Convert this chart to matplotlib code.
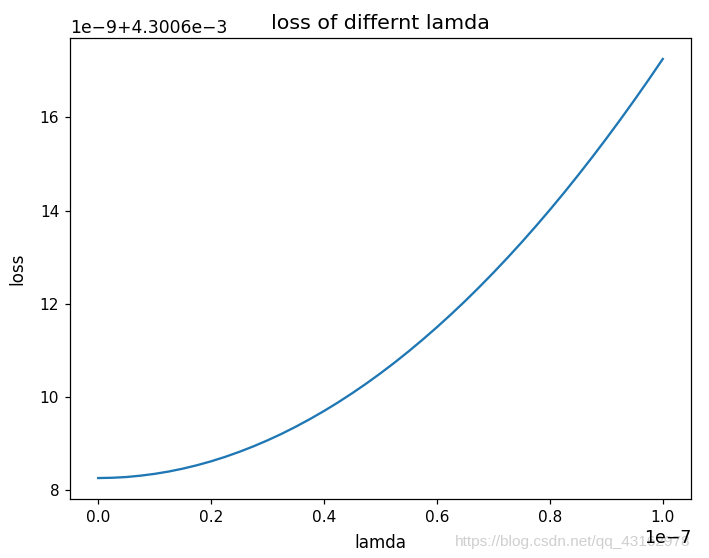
import matplotlib
matplotlib.use("Agg")
import matplotlib.pyplot as plt
import numpy as np

# lamda values (units of 1e-7) and loss (units of 1e-9 above 4.3006e-3)
lamda = [0.0, 0.025, 0.05, 0.075, 0.1, 0.125, 0.15, 0.175, 0.2, 0.225,
         0.25, 0.275, 0.3, 0.325, 0.35, 0.375, 0.4, 0.425, 0.45, 0.475,
         0.5, 0.525, 0.55, 0.575, 0.6, 0.625, 0.65, 0.675, 0.7, 0.725,
         0.75, 0.775, 0.8, 0.825, 0.85, 0.875, 0.9, 0.925, 0.95, 0.975, 1.0]
loss_rel = [8.265, 8.271, 8.287, 8.316, 8.355, 8.405, 8.467, 8.540, 8.624, 8.720,
            8.827, 8.945, 9.074, 9.214, 9.366, 9.529, 9.703, 9.888, 10.085, 10.292,
            10.511, 10.741, 10.983, 11.236, 11.500, 11.775, 12.061, 12.359, 12.668, 12.988,
            13.319, 13.662, 14.015, 14.380, 14.757, 15.144, 15.543, 15.953, 16.374, 16.806, 17.250]
loss_offset = 4.3006e-3

x = np.array(lamda) * 1e-7
y = loss_offset + np.array(loss_rel) * 1e-9

fig = plt.figure(figsize=(709 / 110.8, 558 / 110.8), dpi=110.8)
ax = fig.add_axes([70 / 709, 1 - 499 / 558, 621 / 709, 461 / 558])
ax.plot(x, y)
ax.set_title('loss of differnt lamda', fontsize=13.4)
ax.set_xlabel('lamda', fontsize=10.9, labelpad=6)
ax.set_ylabel('loss', fontsize=10.9, labelpad=9)
ax.yaxis.get_offset_text().set_fontsize(11.1)
ax.xaxis.get_offset_text().set_fontsize(11.3)

fig.text(455 / 709, 1 - 546 / 558, 'https://blog.csdn.net/qq_43162978',
         family='Liberation Sans', color='#cfcfcf', fontsize=10, zorder=-1)

plt.savefig('out.png', dpi=110.8)
